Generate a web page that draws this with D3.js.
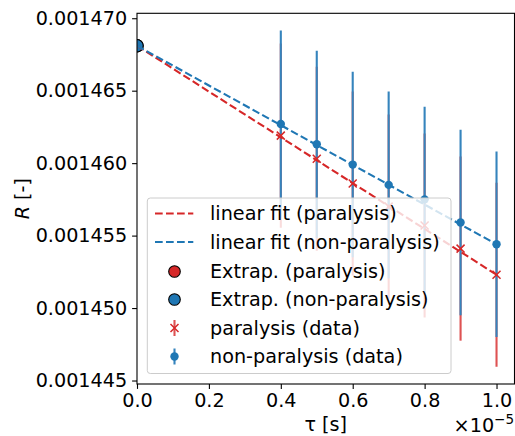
<!DOCTYPE html>
<html>
<head>
<meta charset="utf-8">
<script src="https://cdn.jsdelivr.net/npm/d3@7/dist/d3.min.js"></script>
<style>
body { margin: 0; background: #fff; }
svg { display: block; font-family: "DejaVu Sans", sans-serif; }
</style>
</head>
<body>
<svg id="chart" width="515" height="436"></svg>
<script>
// data, tau in units of 1e-5 s
var tau = [0.4, 0.5, 0.6, 0.7, 0.8, 0.9, 1.0]
var rPara = [0.0014619, 0.0014603, 0.0014586, 0.0014570, 0.0014557, 0.0014541, 0.0014523]
var errPara = [6.35e-6, 6.35e-6, 6.35e-6, 6.35e-6, 6.35e-6, 6.35e-6, 6.35e-6]
var rNon = [0.0014627, 0.0014613, 0.0014599, 0.0014585, 0.0014575, 0.0014559, 0.0014544]
var errNon = [6.45e-6, 6.45e-6, 6.4e-6, 6.45e-6, 6.4e-6, 6.4e-6, 6.4e-6]
var extrapTau = 0
var extrapPara = 0.0014681
var extrapNon = 0.0014681
var fitPara = [[0, 0.0014681], [1.0, 0.0014523]]
var fitNon = [[0, 0.0014681], [1.0, 0.0014544]]
var xTicks = [0.0, 0.2, 0.4, 0.6, 0.8, 1.0]
var yTicks = [0.001445, 0.001450, 0.001455, 0.001460, 0.001465, 0.001470]
var legendLabels = ['linear fit (paralysis)', 'linear fit (non-paralysis)', 'Extrap. (paralysis)',
    'Extrap. (non-paralysis)', 'paralysis (data)', 'non-paralysis (data)']

var red = '#d62728', blue = '#1f77b4'
var redBar = '#de5253', blueBar = '#3584bd'
var svg = d3.select('#chart')
var pLeft = 137, pRight = 514.5, pTop = 13.3, pBottom = 384
var fs = 19.2

var x = d3.scaleLinear().domain([0, 1.05]).range([pLeft, pRight])
var y = d3.scaleLinear().domain([0.00144476, 0.00147034]).range([pBottom, pTop])

svg.append('defs').append('clipPath').attr('id', 'clip')
    .append('rect').attr('x', pLeft).attr('y', pTop).attr('width', pRight - pLeft).attr('height', pBottom - pTop)

var plot = svg.append('g').attr('clip-path', 'url(#clip)')

// extrapolated points (scatter, lowest layer)
plot.append('circle').attr('cx', x(extrapTau)).attr('cy', y(extrapPara)).attr('r', 6.2)
    .attr('fill', red).attr('stroke', '#000').attr('stroke-width', 1.1)
plot.append('circle').attr('cx', x(extrapTau)).attr('cy', y(extrapNon)).attr('r', 6.2)
    .attr('fill', blue).attr('stroke', '#000').attr('stroke-width', 1.1)

// error bars
function bars (vals, errs, col) {
    plot.selectAll(null).data(tau).enter().append('line')
        .attr('x1', d => x(d)).attr('x2', d => x(d))
        .attr('y1', (d, i) => y(vals[i] - errs[i]))
        .attr('y2', (d, i) => y(vals[i] + errs[i]))
        .attr('stroke', col).attr('stroke-width', 2.1)
}
bars(rPara, errPara, redBar)
bars(rNon, errNon, blueBar)

// fit lines
var line = d3.line().x(d => x(d[0])).y(d => y(d[1]))
plot.append('path').attr('d', line(fitPara)).attr('fill', 'none')
    .attr('stroke', red).attr('stroke-width', 2.1).attr('stroke-dasharray', '7.7,3.3')
plot.append('path').attr('d', line(fitNon)).attr('fill', 'none')
    .attr('stroke', blue).attr('stroke-width', 2.1).attr('stroke-dasharray', '7.7,3.3')

// markers
function xMark (g, cx, cy, s) {
    g.append('path').attr('d', `M${cx - s},${cy - s}L${cx + s},${cy + s}M${cx - s},${cy + s}L${cx + s},${cy - s}`)
        .attr('stroke', red).attr('stroke-width', 1.5).attr('fill', 'none')
}
tau.forEach((t, i) => xMark(plot, x(t), y(rPara[i]), 4))
plot.selectAll(null).data(tau).enter().append('circle')
    .attr('cx', d => x(d)).attr('cy', (d, i) => y(rNon[i])).attr('r', 4.2)
    .attr('fill', blue)

// axes
var xAxis = d3.axisBottom(x).tickValues(xTicks).tickFormat(d3.format('.1f')).tickSize(4.9).tickPadding(4.9)
var yAxis = d3.axisLeft(y).tickValues(yTicks).tickFormat(d3.format('.6f')).tickSize(4.9).tickPadding(4.9)
var gx = svg.append('g').attr('transform', `translate(0,${pBottom})`).call(xAxis)
var gy = svg.append('g').attr('transform', `translate(${pLeft},0)`).call(yAxis)
;[gx, gy].forEach(g => {
    g.select('.domain').remove()
    g.selectAll('line').attr('stroke', '#000').attr('stroke-width', 1.1)
    g.selectAll('text').attr('font-size', fs).attr('fill', '#000').attr('font-family', 'DejaVu Sans')
})

svg.append('rect').attr('x', pLeft).attr('y', pTop).attr('width', pRight - pLeft).attr('height', pBottom - pTop)
    .attr('fill', 'none').attr('stroke', '#000').attr('stroke-width', 1.1)

// axis labels
svg.append('text').attr('x', (pLeft + pRight) / 2).attr('y', 431).attr('text-anchor', 'middle')
    .attr('font-size', fs).text('τ [s]')
var off = svg.append('text').attr('x', 514).attr('y', 432).attr('text-anchor', 'end').attr('font-size', fs)
off.append('tspan').text('×10')
off.append('tspan').attr('dy', -8).attr('font-size', 13.5).text('−5')
var yl = svg.append('text').attr('transform', `translate(29,${(pTop + pBottom) / 2}) rotate(-90)`)
    .attr('text-anchor', 'middle').attr('font-size', fs)
yl.append('tspan').attr('font-style', 'italic').text('R')
yl.append('tspan').text(' [-]')

// legend
var lg = svg.append('g')
lg.append('rect').attr('x', 147.3).attr('y', 198).attr('width', 303.7).attr('height', 175.5)
    .attr('rx', 3).attr('fill', '#fff').attr('fill-opacity', 0.8).attr('stroke', '#ccc').attr('stroke-width', 1)
var rowY = [213.5, 242, 271.5, 299.5, 328, 356.5]
var hx0 = 155, hx1 = 193.3, hc = 174.5
lg.append('line').attr('x1', hx0).attr('x2', hx1).attr('y1', rowY[0]).attr('y2', rowY[0])
    .attr('stroke', red).attr('stroke-width', 2.1).attr('stroke-dasharray', '7.7,3.3')
lg.append('line').attr('x1', hx0).attr('x2', hx1).attr('y1', rowY[1]).attr('y2', rowY[1])
    .attr('stroke', blue).attr('stroke-width', 2.1).attr('stroke-dasharray', '7.7,3.3')
lg.append('circle').attr('cx', hc).attr('cy', rowY[2]).attr('r', 5.8).attr('fill', red).attr('stroke', '#000').attr('stroke-width', 1.1)
lg.append('circle').attr('cx', hc).attr('cy', rowY[3]).attr('r', 5.8).attr('fill', blue).attr('stroke', '#000').attr('stroke-width', 1.1)
lg.append('line').attr('x1', hc).attr('x2', hc).attr('y1', rowY[4] - 8).attr('y2', rowY[4] + 8)
    .attr('stroke', redBar).attr('stroke-width', 2.1)
xMark(lg, hc, rowY[4], 4)
lg.append('line').attr('x1', hc).attr('x2', hc).attr('y1', rowY[5] - 8).attr('y2', rowY[5] + 8)
    .attr('stroke', blueBar).attr('stroke-width', 2.1)
lg.append('circle').attr('cx', hc).attr('cy', rowY[5]).attr('r', 4.2).attr('fill', blue)
lg.selectAll('text.lab').data(legendLabels).enter().append('text').attr('class', 'lab')
    .attr('x', 210).attr('y', (d, i) => rowY[i]).attr('dy', '0.35em')
    .attr('font-size', fs).attr('fill', '#000').text(d => d)
</script>
</body>
</html>
